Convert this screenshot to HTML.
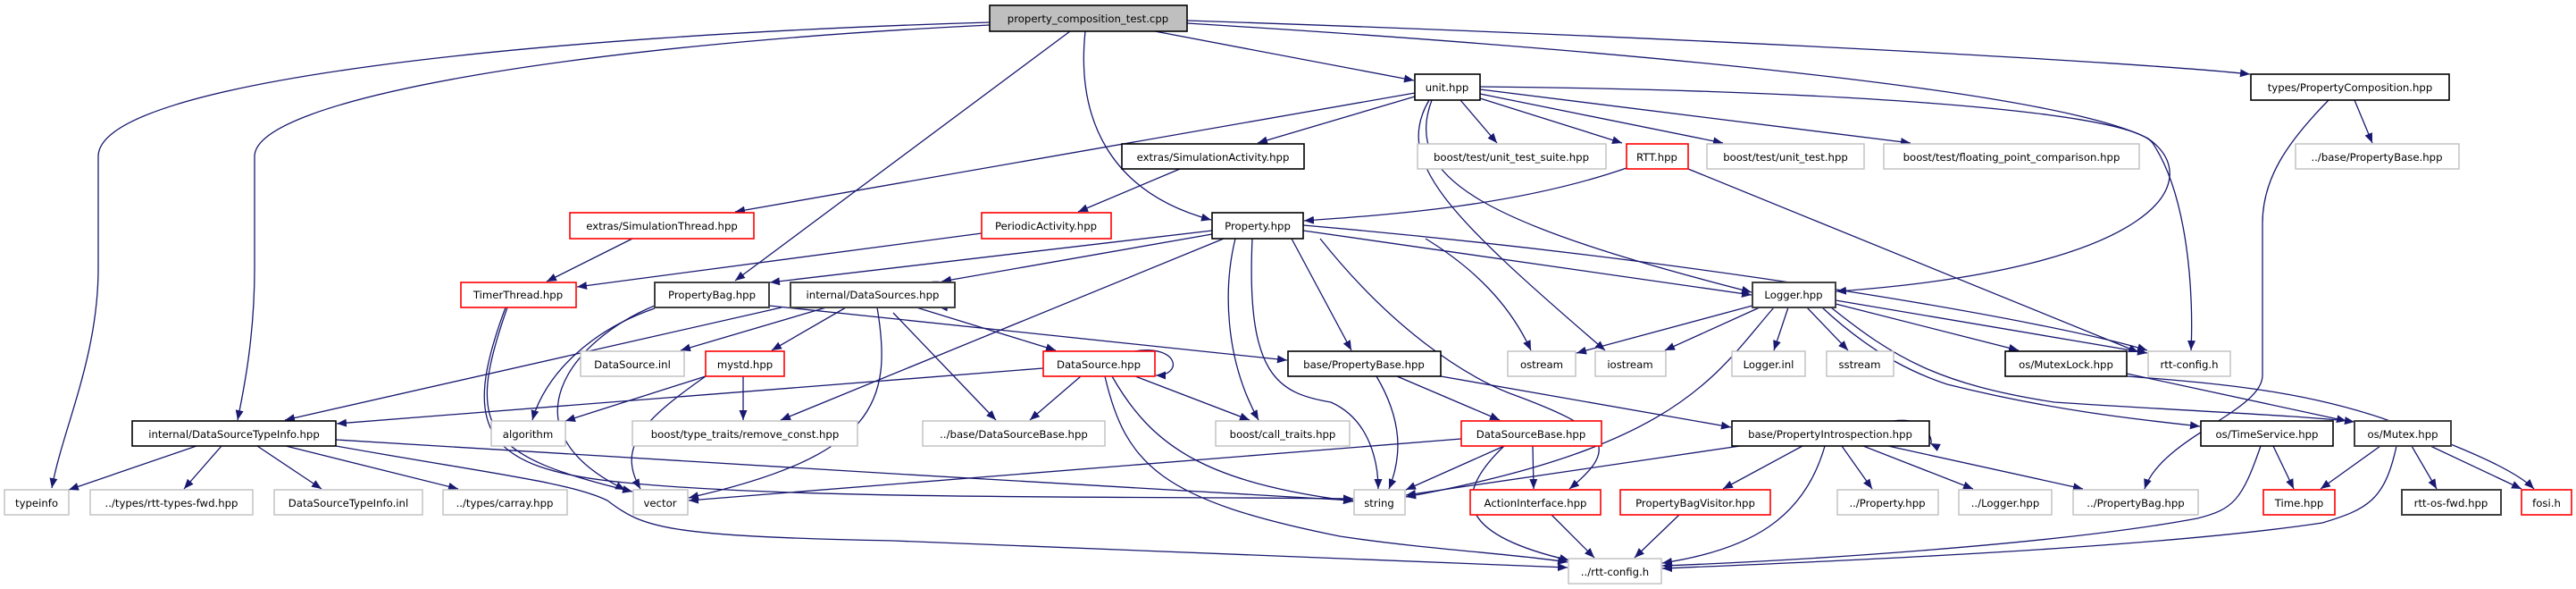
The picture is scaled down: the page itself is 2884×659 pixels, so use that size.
<!DOCTYPE html>
<html><head><meta charset="utf-8"><style>
html,body{margin:0;padding:0;background:#fff;}
svg{display:block;}
text{font-family:"DejaVu Sans","Liberation Sans",sans-serif;font-size:11.7px;fill:#000;text-anchor:middle;}
.e{fill:none;stroke:#191970;stroke-width:1.3;marker-end:url(#a);}
.nb{fill:#fff;stroke:#000;stroke-width:1.6;}
.nd{fill:#fff;stroke:#404040;stroke-width:2;}
.nr{fill:#fff;stroke:#ff0000;stroke-width:1.6;}
.ng{fill:#fff;stroke:#bfbfbf;stroke-width:1.4;}
</style></head><body>
<svg width="2884" height="659" viewBox="0 0 2884 659" xmlns="http://www.w3.org/2000/svg">
<defs><marker id="a" markerUnits="userSpaceOnUse" markerWidth="12" markerHeight="9" refX="11" refY="4.5" orient="auto"><path d="M0,0 L11,4.5 L0,9 z" fill="#191970"/></marker></defs>

<!-- edges -->
<path class="e" d="M1108,25 C600,40 110,90 110,175 L110,300 C110,400 70,480 58,546"/>
<path class="e" d="M1108,28 C650,50 285,110 285,175 L285,300 C285,380 272,440 266,470"/>
<path class="e" d="M1198,35 L823,314"/>
<path class="e" d="M1215,35 C1205,130 1240,215 1356,246"/>
<path class="e" d="M1293,35 L1583,90"/>
<path class="e" d="M1329,23 C1900,42 2400,70 2519,83"/>
<path class="e" d="M1329,26 C1800,55 2300,100 2405,155 C2470,200 2420,300 2056,326"/>
<path class="e" d="M1584,104 L823,237"/>
<path class="e" d="M1584,108 L1408,160"/>
<path class="e" d="M1635,112 L1676,160"/>
<path class="e" d="M1657,110 L1816,160"/>
<path class="e" d="M1657,105 L1929,160"/>
<path class="e" d="M1657,100 L2139,160"/>
<path class="e" d="M1657,97 C2000,100 2380,120 2410,160 C2450,220 2456,330 2453,392"/>
<path class="e" d="M1600,112 C1560,180 1620,240 1797,392"/>
<path class="e" d="M1603,112 C1570,200 1660,250 1961,327"/>
<path class="e" d="M708,267 L612,315"/>
<path class="e" d="M1321,189 L1207,237"/>
<path class="e" d="M1821,188 C1700,230 1560,240 1460,247"/>
<path class="e" d="M1890,189 L2394,394"/>
<path class="e" d="M1099,261 L646,321"/>
<path class="e" d="M2636,112 L2656,160"/>
<path class="e" d="M2607,112 C2560,160 2533,200 2533,250 L2533,420 C2533,460 2420,490 2401,547"/>
<path class="e" d="M1357,258 L862,316"/>
<path class="e" d="M1357,262 L1054,315"/>
<path class="e" d="M1370,267 L874,470"/>
<path class="e" d="M1383,267 C1370,320 1370,400 1409,470"/>
<path class="e" d="M1402,267 C1395,420 1430,440 1490,450 C1535,470 1543,520 1543,547"/>
<path class="e" d="M1446,267 L1513,392"/>
<path class="e" d="M1478,267 C1560,370 1640,420 1690,440 C1800,480 1815,500 1757,547"/>
<path class="e" d="M1596,267 C1650,300 1690,340 1714,392"/>
<path class="e" d="M1459,258 L1961,330"/>
<path class="e" d="M1459,252 C1900,290 2300,360 2404,392"/>
<path class="e" d="M733,342 C640,380 560,480 700,548"/>
<path class="e" d="M733,345 C660,370 610,420 596,470"/>
<path class="e" d="M861,342 L1441,403"/>
<path class="e" d="M568,344 C520,480 540,510 708,550"/>
<path class="e" d="M566,344 C515,480 540,525 700,540 C900,560 1300,555 1515,558"/>
<path class="e" d="M1040,316 C1075,310 1075,345 1050,343"/>
<path class="e" d="M925,344 L762,392"/>
<path class="e" d="M947,344 L864,392"/>
<path class="e" d="M875,344 L319,470"/>
<path class="e" d="M982,344 C1000,450 980,510 771,557"/>
<path class="e" d="M1026,344 L1182,392"/>
<path class="e" d="M1000,350 L1115,470"/>
<path class="e" d="M790,421 L633,471"/>
<path class="e" d="M832,421 L832,470"/>
<path class="e" d="M790,421 C720,470 690,500 717,547"/>
<path class="e" d="M1270,393 C1320,385 1325,420 1294,420"/>
<path class="e" d="M1210,421 L1153,470"/>
<path class="e" d="M1271,421 L1399,470"/>
<path class="e" d="M1245,421 C1290,500 1350,540 1515,561"/>
<path class="e" d="M1237,421 C1260,520 1300,560 1500,600 C1600,615 1700,620 1755,629"/>
<path class="e" d="M1168,412 L377,474"/>
<path class="e" d="M1541,421 C1570,470 1570,510 1555,547"/>
<path class="e" d="M1564,421 L1679,470"/>
<path class="e" d="M1613,421 L1938,478"/>
<path class="e" d="M1962,342 L1765,395"/>
<path class="e" d="M1970,344 L1864,392"/>
<path class="e" d="M2002,344 L1986,392"/>
<path class="e" d="M2023,344 L2069,392"/>
<path class="e" d="M2055,340 L2260,392"/>
<path class="e" d="M2055,336 L2404,395"/>
<path class="e" d="M1986,344 C1920,420 1880,500 1574,556"/>
<path class="e" d="M2040,344 C2100,400 2150,420 2180,430 C2300,460 2400,470 2463,477"/>
<path class="e" d="M2050,344 C2120,400 2170,430 2300,450 C2450,460 2580,465 2636,472"/>
<path class="e" d="M2381,418 L2627,471"/>
<path class="e" d="M2381,421 C2500,430 2600,440 2700,480 C2780,510 2820,530 2837,547"/>
<path class="e" d="M2545,499 L2568,547"/>
<path class="e" d="M2531,499 C2510,560 2500,570 2460,580 C2300,610 2000,628 1861,633"/>
<path class="e" d="M2665,499 L2598,547"/>
<path class="e" d="M2700,499 L2728,547"/>
<path class="e" d="M2721,499 L2823,547"/>
<path class="e" d="M2683,499 C2670,560 2650,570 2600,585 C2400,615 2000,630 1861,636"/>
<path class="e" d="M2120,471 C2160,465 2165,498 2161,496"/>
<path class="e" d="M2018,499 L1929,547"/>
<path class="e" d="M2062,499 L2096,547"/>
<path class="e" d="M2086,499 L2209,547"/>
<path class="e" d="M2114,499 L2332,547"/>
<path class="e" d="M1948,499 L1574,554"/>
<path class="e" d="M2043,499 C2020,580 1960,615 1861,630"/>
<path class="e" d="M1636,491 L771,560"/>
<path class="e" d="M1684,499 L1574,548"/>
<path class="e" d="M1716,499 L1717,547"/>
<path class="e" d="M1684,499 C1620,560 1640,600 1757,627"/>
<path class="e" d="M1737,576 L1785,624"/>
<path class="e" d="M1880,576 L1830,624"/>
<path class="e" d="M220,499 L77,548"/>
<path class="e" d="M248,499 L206,547"/>
<path class="e" d="M288,499 L360,547"/>
<path class="e" d="M320,499 L513,547"/>
<path class="e" d="M376,492 L1000,530 L1515,560"/>
<path class="e" d="M376,499 C550,530 640,540 680,560 C720,590 740,600 1000,605 L1755,635"/>

<!-- nodes -->
<rect x="1108" y="6" width="221" height="29" fill="#bfbfbf" stroke="#000" stroke-width="1.6"/><text x="1218" y="25">property_composition_test.cpp</text>
<rect class="nb" x="1584" y="83" width="73" height="29"/><text x="1620" y="102">unit.hpp</text>
<rect class="nb" x="2520" y="83" width="222" height="29"/><text x="2631" y="102">types/PropertyComposition.hpp</text>
<rect class="nb" x="1256" y="161" width="204" height="28"/><text x="1358" y="180">extras/SimulationActivity.hpp</text>
<rect class="ng" x="1587" y="161" width="211" height="28"/><text x="1692" y="180">boost/test/unit_test_suite.hpp</text>
<rect class="nr" x="1821" y="161" width="69" height="28"/><text x="1855" y="180">RTT.hpp</text>
<rect class="ng" x="1911" y="161" width="176" height="28"/><text x="1999" y="180">boost/test/unit_test.hpp</text>
<rect class="ng" x="2109" y="161" width="286" height="28"/><text x="2252" y="180">boost/test/floating_point_comparison.hpp</text>
<rect class="ng" x="2570" y="161" width="183" height="28"/><text x="2661" y="180">../base/PropertyBase.hpp</text>
<rect class="nr" x="638" y="238" width="206" height="29"/><text x="741" y="257">extras/SimulationThread.hpp</text>
<rect class="nr" x="1099" y="238" width="145" height="29"/><text x="1171" y="257">PeriodicActivity.hpp</text>
<rect class="nb" x="1357" y="238" width="102" height="29"/><text x="1408" y="257">Property.hpp</text>
<rect class="nr" x="516" y="316" width="129" height="28"/><text x="580" y="334">TimerThread.hpp</text>
<rect class="nd" x="733" y="316" width="128" height="28"/><text x="797" y="334">PropertyBag.hpp</text>
<rect class="nd" x="885" y="316" width="184" height="28"/><text x="977" y="334">internal/DataSources.hpp</text>
<rect class="nd" x="1962" y="316" width="93" height="28"/><text x="2008" y="334">Logger.hpp</text>
<rect class="ng" x="650" y="393" width="116" height="28"/><text x="708" y="412">DataSource.inl</text>
<rect class="nr" x="790" y="393" width="88" height="28"/><text x="834" y="412">mystd.hpp</text>
<rect class="nr" x="1168" y="393" width="125" height="28"/><text x="1230" y="412">DataSource.hpp</text>
<rect class="nb" x="1442" y="393" width="171" height="28"/><text x="1527" y="412">base/PropertyBase.hpp</text>
<rect class="ng" x="1688" y="393" width="76" height="28"/><text x="1726" y="412">ostream</text>
<rect class="ng" x="1786" y="393" width="79" height="28"/><text x="1825" y="412">iostream</text>
<rect class="ng" x="1939" y="393" width="82" height="28"/><text x="1980" y="412">Logger.inl</text>
<rect class="ng" x="2045" y="393" width="75" height="28"/><text x="2082" y="412">sstream</text>
<rect class="nb" x="2245" y="393" width="136" height="28"/><text x="2313" y="412">os/MutexLock.hpp</text>
<rect class="ng" x="2405" y="393" width="92" height="28"/><text x="2451" y="412">rtt-config.h</text>
<rect class="nb" x="148" y="471" width="228" height="28"/><text x="262" y="490">internal/DataSourceTypeInfo.hpp</text>
<rect class="ng" x="550" y="471" width="83" height="28"/><text x="591" y="490">algorithm</text>
<rect class="ng" x="708" y="471" width="252" height="28"/><text x="834" y="490">boost/type_traits/remove_const.hpp</text>
<rect class="ng" x="1033" y="471" width="204" height="28"/><text x="1135" y="490">../base/DataSourceBase.hpp</text>
<rect class="ng" x="1361" y="471" width="150" height="28"/><text x="1436" y="490">boost/call_traits.hpp</text>
<rect class="nr" x="1636" y="471" width="157" height="28"/><text x="1714" y="490">DataSourceBase.hpp</text>
<rect class="nb" x="1939" y="471" width="221" height="28"/><text x="2049" y="490">base/PropertyIntrospection.hpp</text>
<rect class="nb" x="2464" y="471" width="148" height="28"/><text x="2538" y="490">os/TimeService.hpp</text>
<rect class="nd" x="2636" y="471" width="108" height="28"/><text x="2690" y="490">os/Mutex.hpp</text>
<rect class="ng" x="5" y="548" width="72" height="28"/><text x="41" y="567">typeinfo</text>
<rect class="ng" x="101" y="548" width="182" height="28"/><text x="192" y="567">../types/rtt-types-fwd.hpp</text>
<rect class="ng" x="307" y="548" width="166" height="28"/><text x="390" y="567">DataSourceTypeInfo.inl</text>
<rect class="ng" x="496" y="548" width="139" height="28"/><text x="565" y="567">../types/carray.hpp</text>
<rect class="ng" x="709" y="548" width="61" height="28"/><text x="739" y="567">vector</text>
<rect class="ng" x="1516" y="548" width="57" height="28"/><text x="1544" y="567">string</text>
<rect class="nr" x="1646" y="548" width="146" height="28"/><text x="1719" y="567">ActionInterface.hpp</text>
<rect class="nr" x="1814" y="548" width="168" height="28"/><text x="1898" y="567">PropertyBagVisitor.hpp</text>
<rect class="ng" x="2057" y="548" width="113" height="28"/><text x="2113" y="567">../Property.hpp</text>
<rect class="ng" x="2193" y="548" width="104" height="28"/><text x="2245" y="567">../Logger.hpp</text>
<rect class="ng" x="2321" y="548" width="140" height="28"/><text x="2391" y="567">../PropertyBag.hpp</text>
<rect class="nr" x="2534" y="548" width="80" height="28"/><text x="2574" y="567">Time.hpp</text>
<rect class="nd" x="2689" y="548" width="111" height="28"/><text x="2744" y="567">rtt-os-fwd.hpp</text>
<rect class="nr" x="2823" y="548" width="56" height="28"/><text x="2851" y="567">fosi.h</text>
<rect class="ng" x="1756" y="625" width="104" height="28"/><text x="1808" y="644">../rtt-config.h</text>
</svg>
</body></html>
